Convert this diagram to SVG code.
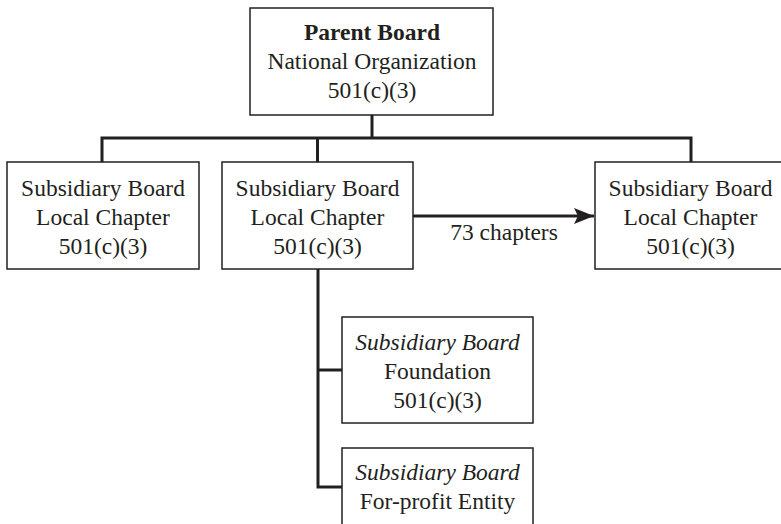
<svg xmlns="http://www.w3.org/2000/svg" width="781" height="524" viewBox="0 0 781 524">
  <style>
    .box { fill: #ffffff; stroke: #231f20; stroke-width: 1.5; }
    .wire { fill: none; stroke: #231f20; stroke-width: 3; }
    text { font-size: 23.5px; fill: #231f20; text-anchor: middle; }
    .b { font-weight: bold; }
    .i { font-style: italic; }
  </style>
  <defs>
    <marker id="arrow" viewBox="0 0 20 16" refX="20" refY="8" markerWidth="20" markerHeight="16" markerUnits="userSpaceOnUse" orient="auto">
      <path d="M0,0 L20,8 L0,16 L4,8 Z" fill="#231f20"/>
    </marker>
  </defs>

  <g font-family="'Liberation Serif', 'DejaVu Serif', 'Times New Roman', serif">
  <!-- connectors -->
  <g id="connectors">
    <path class="wire" d="M372,115 V138"/>
    <path class="wire" d="M102,162 V138 H691 V162"/>
    <path class="wire" d="M317.5,138 V162"/>
    <path class="wire" d="M318,269 V487 H342"/>
    <path class="wire" d="M318,370 H342"/>
    <path class="wire" d="M413,216 H594" marker-end="url(#arrow)"/>
    <text x="504" y="240">73 chapters</text>
  </g>

  <g id="parent">
    <rect class="box" x="250" y="8" width="243" height="107"/>
    <text x="372" y="40" class="b">Parent Board</text>
    <text x="372" y="69">National Organization</text>
    <text x="372" y="98">501(c)(3)</text>
  </g>

  <g id="chapter-left">
    <rect class="box" x="7" y="162" width="192" height="107"/>
    <text x="103" y="196">Subsidiary Board</text>
    <text x="103" y="225">Local Chapter</text>
    <text x="103" y="254">501(c)(3)</text>
  </g>

  <g id="chapter-middle">
    <rect class="box" x="222" y="162" width="191" height="107"/>
    <text x="317.5" y="196">Subsidiary Board</text>
    <text x="317.5" y="225">Local Chapter</text>
    <text x="317.5" y="254">501(c)(3)</text>
  </g>

  <g id="chapter-right">
    <rect class="box" x="595" y="162" width="191" height="107"/>
    <text x="690.5" y="196">Subsidiary Board</text>
    <text x="690.5" y="225">Local Chapter</text>
    <text x="690.5" y="254">501(c)(3)</text>
  </g>

  <g id="foundation">
    <rect class="box" x="342" y="317" width="191" height="106"/>
    <text x="437.5" y="350" class="i">Subsidiary Board</text>
    <text x="437.5" y="379">Foundation</text>
    <text x="437.5" y="408">501(c)(3)</text>
  </g>

  <g id="for-profit">
    <rect class="box" x="342" y="448" width="191" height="100"/>
    <text x="437.5" y="480" class="i">Subsidiary Board</text>
    <text x="437.5" y="509">For-profit Entity</text>
  </g>
  </g>
</svg>
